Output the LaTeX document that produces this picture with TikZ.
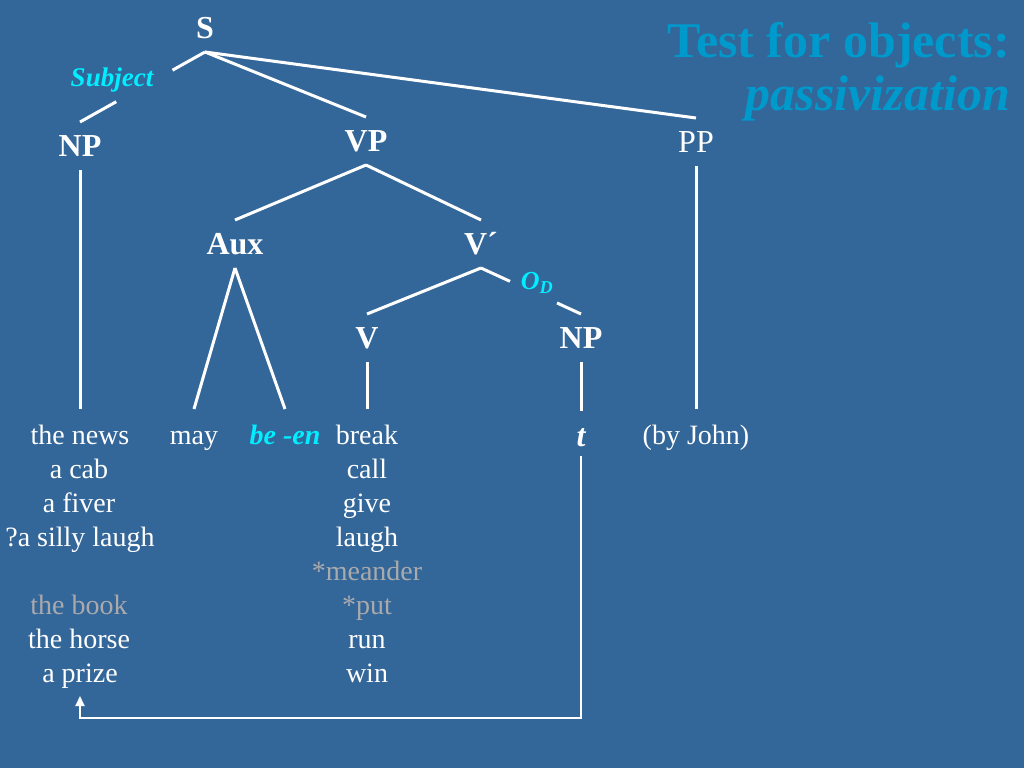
\documentclass[tikz,border=0pt]{standalone}
\usepackage{fontspec}
\setmainfont{Liberation Serif}
\usepackage{tikz}
\usetikzlibrary{positioning,arrows.meta,calc}

\definecolor{slidebg}{RGB}{51,102,153}
\definecolor{titleblue}{RGB}{0,153,204}
\definecolor{hilite}{RGB}{0,238,255}
\definecolor{starred}{RGB}{170,170,172}

\tikzset{
  cat/.style={font=\bfseries\fontsize{32}{36}\selectfont, text=white, text height=21pt,
    text depth=0pt, inner sep=0pt, outer xsep=0pt, outer ysep=13.5pt},
  word/.style={font=\fontsize{28}{34}\selectfont, text=white, anchor=base, text height=25pt,
    text depth=0pt, inner sep=0pt, outer xsep=0pt, outer ysep=10pt},
  branch/.style={draw=white, line width=3pt},
  trace/.style={draw=white, line width=1.8pt, -{Triangle[length=10pt,width=9pt]}}
}

\begin{document}
\begin{tikzpicture}[x=1pt,y=-1pt]
  \fill[slidebg] (0,0) rectangle (1024,768);
  % title
  \node[anchor=base east, text=titleblue, font=\bfseries\fontsize{50}{54}\selectfont, inner sep=0pt]
    (title) at (1010,57) {Test for objects:};
  \node[anchor=base east, text=titleblue, font=\bfseries\itshape\fontsize{50}{54}\selectfont, inner sep=0pt]
    (subtitle) at (1010,110) {passivization};
  % categories
  \node[cat] (S) at (205,28) {S};
  \node[cat] (NPs) at (80,146) {NP};
  \node[cat] (VP) at (366,141) {VP};
  \node[cat, font=\fontsize{32}{36}\selectfont] (PP) at (696,142) {PP};
  \node[cat] (Aux) at (235,244) {Aux};
  \node[cat] (Vbar) at (481,244) {V´};
  \node[cat] (V) at (367,338) {V};
  \node[cat] (NPo) at (581,338) {NP};
  \node[text=hilite, font=\bfseries\itshape\fontsize{27}{30}\selectfont] (subj) at (112,80) {Subject};
  \node[text=hilite, font=\bfseries\itshape\fontsize{26}{30}\selectfont] (od) at (537,283) {O\textsubscript{D}};
  % words
  \node[word] (news) at (80,444) {the news};
  \node[word] at (79,478) {a cab};
  \node[word] at (79,512) {a fiver};
  \node[word] at (80,546) {?a silly laugh};
  \node[word, text=starred] at (79,614) {the book};
  \node[word] at (79,648) {the horse};
  \node[word] (prize) at (80,682) {a prize};
  \node[word] (may) at (194,444) {may};
  \node[word, text=hilite, font=\bfseries\itshape\fontsize{28}{34}\selectfont] (been) at (285,444) {be -en};
  \node[word] (break) at (367,444) {break};
  \node[word] at (367,478) {call};
  \node[word] at (367,512) {give};
  \node[word] at (367,546) {laugh};
  \node[word, text=starred] at (367,580) {*meander};
  \node[word, text=starred] at (367,614) {*put};
  \node[word] at (367,648) {run};
  \node[word] at (367,682) {win};
  \node[word, font=\bfseries\itshape\fontsize{32}{36}\selectfont] (t) at (581,446) {t};
  \node[word] (byjohn) at (696,444) {(by John)};
  % branches
  \draw[branch] (S.south) -- ($(S.south)!.26!(NPs.north)$);
  \draw[branch] ($(S.south)!.71!(NPs.north)$) -- (NPs.north);
  \draw[branch] (S.south) -- (VP.north);
  \draw[branch] (S.south) -- (PP.north);
  \draw[branch] (NPs.south) -- (news.north);
  \draw[branch] (VP.south) -- (Aux.north);
  \draw[branch] (VP.south) -- (Vbar.north);
  \draw[branch] (Aux.south) -- (may.north);
  \draw[branch] (Aux.south) -- (been.north);
  \draw[branch] (Vbar.south) -- (V.north);
  \draw[branch] (Vbar.south) -- ($(Vbar.south)!.29!(NPo.north)$);
  \draw[branch] ($(Vbar.south)!.76!(NPo.north)$) -- (NPo.north);
  \draw[branch] (V.south) -- (break.north);
  \draw[branch] (NPo.south) -- (t.north);
  \draw[branch] (PP.south) -- (byjohn.north);
  % movement
  \draw[trace, shorten >=4pt] (t.south) -- ++(0,262) -| (prize.south);
\end{tikzpicture}
\end{document}
